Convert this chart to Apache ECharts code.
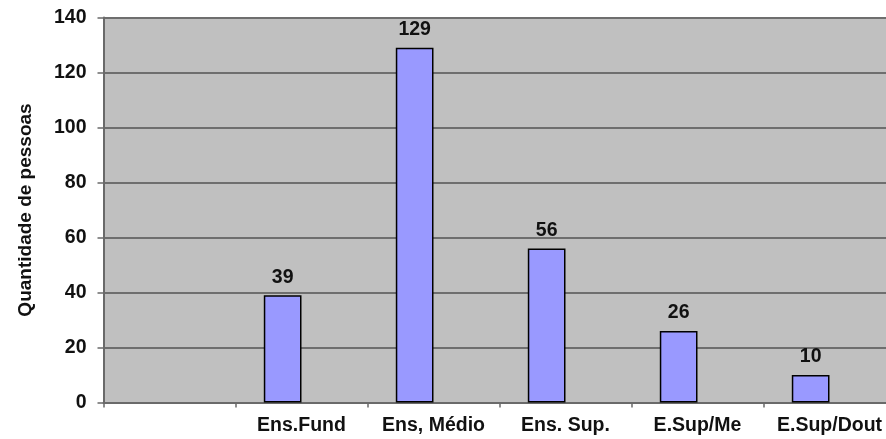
<!DOCTYPE html>
<html>
<head>
<meta charset="utf-8">
<script src="https://cdn.jsdelivr.net/npm/echarts@6/dist/echarts.min.js"></script>
<style>html,body{margin:0;padding:0;background:#fff}#c{width:886px;height:439px}</style>
</head>
<body>
<div id="c"></div>
<script>
const categories = ['', 'Ens.Fund', 'Ens, Médio', 'Ens. Sup.', 'E.Sup/Me', 'E.Sup/Dout'];
const values = [null, 39, 129, 56, 26, 10];
const emptySeries = [null, null, null, null, null, null];
const yTicks = { min: 0, max: 140, interval: 20 };
const yName = 'Quantidade de pessoas';

const font = 'Liberation Sans, Arial, sans-serif';
const chart = echarts.init(document.getElementById('c'), null, { renderer: 'canvas' });
chart.setOption({
  animation: false,
  backgroundColor: '#ffffff',
  grid: { left: 103.5, top: 17.5, width: 792, height: 385, backgroundColor: '#c0c0c0', show: true, borderWidth: 0, outerBoundsMode: 'none', containLabel: false },
  xAxis: {
    type: 'category',
    data: categories,
    axisLine: { lineStyle: { color: '#6a6a6a', width: 2 } },
    axisTick: { show: true, length: 5, lineStyle: { color: '#6a6a6a', width: 1.5 } },
    axisLabel: { color: '#111', fontFamily: font, fontWeight: 'bold', fontSize: 19.5, margin: 13, interval: 0 }
  },
  yAxis: {
    type: 'value',
    min: yTicks.min, max: yTicks.max, interval: yTicks.interval,
    name: yName,
    nameLocation: 'middle',
    nameGap: 68,
    nameTextStyle: { color: '#111', fontFamily: font, fontWeight: 'bold', fontSize: 19 },
    axisLine: { show: true, lineStyle: { color: '#6a6a6a', width: 2 } },
    axisTick: { show: true, length: 6, lineStyle: { color: '#6a6a6a', width: 1.5 } },
    axisLabel: { color: '#111', fontFamily: font, fontWeight: 'bold', fontSize: 19.5, margin: 17 },
    splitLine: { show: true, lineStyle: { color: '#6e6e6e', width: 2 } }
  },
  series: [
    {
      type: 'bar',
      data: values,
      barWidth: 37.7,
      barGap: '0%',
      itemStyle: { color: '#9999ff', borderColor: '#000', borderWidth: 1.5 },
      label: { show: true, position: 'top', distance: 8, color: '#111', fontFamily: font, fontWeight: 'bold', fontSize: 19.5 }
    },
    {
      type: 'bar',
      data: emptySeries,
      barWidth: 37.7,
      barGap: '0%',
      itemStyle: { color: '#993366' }
    }
  ]
});
</script>
</body>
</html>
